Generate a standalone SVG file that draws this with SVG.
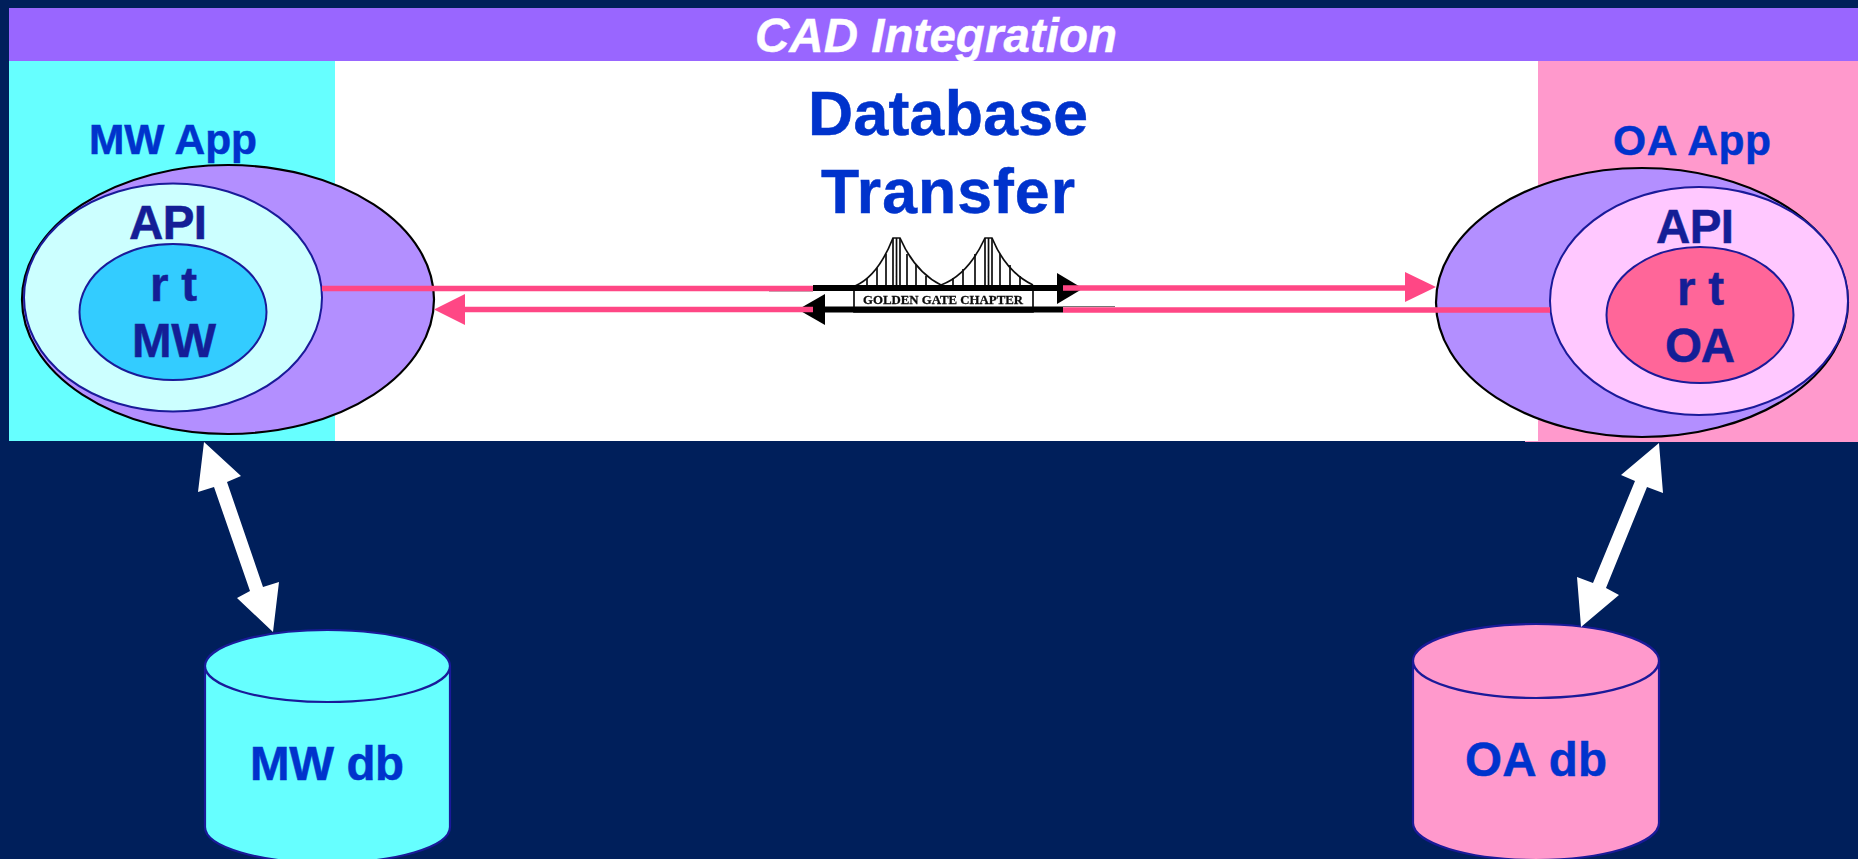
<svg xmlns="http://www.w3.org/2000/svg" width="1858" height="859" viewBox="0 0 1858 859">
<style>
text{font-family:"Liberation Sans",Arial,sans-serif;font-weight:700}
.blue{fill:#0033cc;stroke:#0033cc;stroke-width:.5}
.dark{fill:#141e96;stroke:#141e96;stroke-width:.5}
.app{font-size:42.500px}
.api{font-size:47.500px}
.head{font-size:62.500px}
.outer{fill:#b38fff;stroke:#000;stroke-width:2.2}
.in{stroke:#1a1a99;stroke-width:2}
.cyl{stroke:#1a1a99;stroke-width:2.2}
.pink{stroke:#ff4785;stroke-width:5.5;fill:none}
.black{stroke:#000;stroke-width:6;fill:none}
.thin{stroke:#777;stroke-width:1;fill:none}
.ph{fill:#ff4785}
.wh{fill:#fff}
.br{fill:none;stroke:#111;stroke-width:1.700}
</style>
<defs><filter id="soft" x="-5%" y="-5%" width="110%" height="110%"><feGaussianBlur stdDeviation="0.5"/></filter></defs>
<rect width="1858" height="859" fill="#001f5b"/>
<g id="panels">
<rect x="9" y="61" width="326" height="380" fill="#66ffff"/>
<rect x="335" y="61" width="1203" height="380" fill="#fff"/>
<rect x="1525" y="441" width="13" height="1" fill="#ff99cc"/>
<rect x="1538" y="61" width="320" height="381" fill="#ff99cc"/>
</g>
<g id="title">
<rect x="9" y="8" width="1849" height="53" fill="#9966ff"/>
<text x="755" y="52" textLength="362" font-size="47.500" font-style="italic" fill="#fff" stroke="#fff" stroke-width=".4">CAD Integration</text>
</g>
<g id="heading">
<text class="head blue" x="808" y="135" textLength="280">Database</text>
<text class="head blue" x="821" y="213" textLength="254">Transfer</text>
</g>
<g id="bridge">
<g filter="url(#soft)">
<path class="br" d="M855 286Q878 276 893 238H900Q915 272 941 285Q968 275 985 238H992Q1006 272 1033 285"/>
<path class="br" d="M893 238V286M896.500 238V286M900 238V286M985 238V286M988.500 238V286M992 238V286M867 278V286M877 268V286M886 254V286M907 254V286M916 265V286M926 276V286M953 278V286M963 269V286M975 254V286M1000 254V286M1010 265V286M1020 276V286"/>
<path class="br" d="M854 291V312H1033V291"/>
<text x="863" y="304" textLength="160" lengthAdjust="spacingAndGlyphs" font-size="13" fill="#111" stroke="#111" stroke-width=".3" style="font-family:'Liberation Serif',serif">GOLDEN GATE CHAPTER</text>
</g>
</g>
<g id="mw-app">
<ellipse class="outer" cx="228" cy="299.500" rx="206" ry="134.500"/>
<ellipse class="in" cx="173" cy="297.500" rx="149" ry="114" fill="#ccffff"/>
<ellipse class="in" cx="173" cy="312" rx="93.500" ry="68" fill="#33ccff"/>
<text class="app blue" x="89" y="153.500" textLength="168">MW App</text>
<text class="api dark" x="129" y="239" textLength="78">API</text>
<text class="api dark" x="150" y="301" textLength="47">r t</text>
<text class="api dark" x="132" y="357" textLength="84">MW</text>
</g>
<g id="oa-app">
<ellipse class="outer" cx="1642" cy="302.500" rx="206" ry="134.500"/>
<ellipse class="in" cx="1699" cy="301" rx="149" ry="114" fill="#ffc8ff"/>
<ellipse class="in" cx="1700" cy="315" rx="93.500" ry="68" fill="#ff6699"/>
<text class="app blue" x="1613" y="154.500" textLength="158">OA App</text>
<text class="api dark" x="1656" y="243" textLength="78">API</text>
<text class="api dark" x="1677" y="305" textLength="47">r t</text>
<text class="api dark" x="1665" y="362" textLength="70">OA</text>
</g>
<g id="mw-db">
<path class="cyl" fill="#66ffff" d="M205 666V827C205 847 260 863 327.500 863S450 847 450 827V666"/>
<ellipse class="cyl" fill="#66ffff" cx="327.500" cy="666" rx="122.500" ry="36"/>
<text class="api blue" x="250" y="780" textLength="154">MW db</text>
</g>
<g id="oa-db">
<path class="cyl" fill="#ff99cc" d="M1413 661V823C1413 843 1468 860 1536 860S1659 843 1659 823V661"/>
<ellipse class="cyl" fill="#ff99cc" cx="1536" cy="661" rx="123" ry="37"/>
<text class="api blue" x="1465" y="776" textLength="142">OA db</text>
</g>
<g id="connectors">
<path class="thin" d="M769 291H813M1063 306.500H1115"/>
<path class="black" d="M813 288H1060M825 309.500H1063"/>
<polygon points="1057,273 1083,288.500 1057,304" fill="#000"/>
<polygon points="825,294 798,309.500 825,325" fill="#000"/>
<path class="pink" d="M322 288.500H813M1063 288H1408M465 309.500H813M1063 310H1550"/>
<polygon class="ph" points="1405,272 1436,287 1405,302"/>
<polygon class="ph" points="465,294 434,309.500 465,325"/>
<polygon class="wh" points="204,442 241,476 227,482 263,587 279,582 273,632 237,598 250,591 214,487 198,492"/>
<polygon class="wh" points="1659,443 1663,493 1647,487 1606,588 1619,595 1581,627 1577,577 1593,583 1635,481 1621,475"/>
</g>
</svg>
